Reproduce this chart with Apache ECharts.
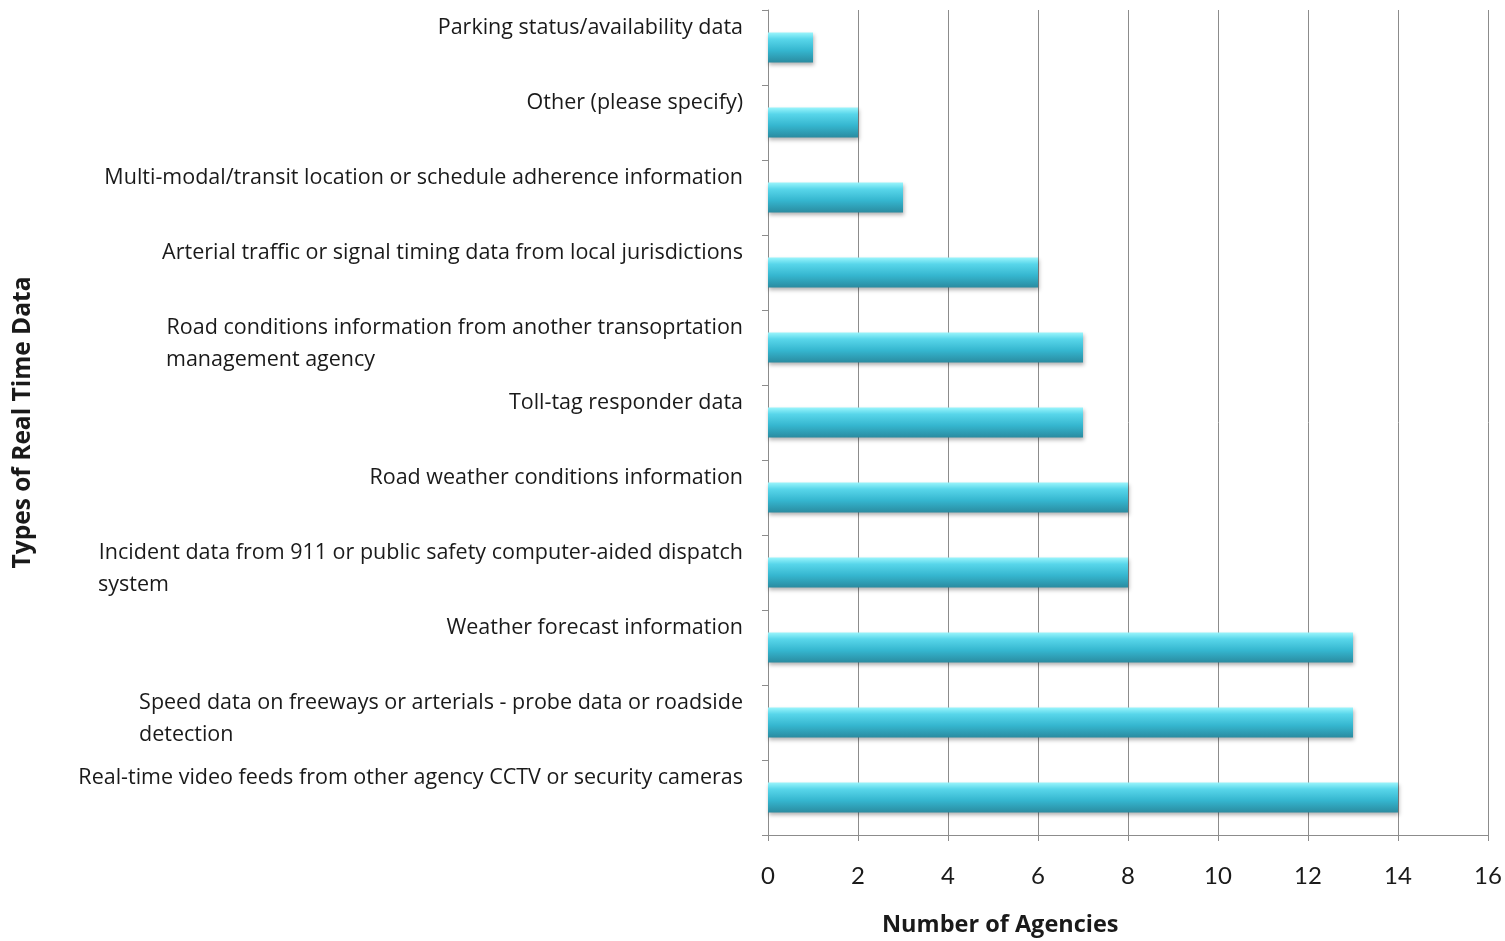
<!DOCTYPE html>
<html><head><meta charset="utf-8">
<script src="https://cdn.jsdelivr.net/npm/echarts@6/dist/echarts.min.js"></script>
<style>html,body{margin:0;padding:0;background:#fff}#c{width:1505px;height:941px}</style>
</head><body><div id="c"></div>
<script>
// Categories listed top to bottom; second element is an optional wrapped line
var categories = [
  ["Parking status/availability data"],
  ["Other (please specify)"],
  ["Multi-modal/transit location or schedule adherence information"],
  ["Arterial traffic or signal timing data from local jurisdictions"],
  ["Road conditions information from another transoprtation", "management agency"],
  ["Toll-tag responder data"],
  ["Road weather conditions information"],
  ["Incident data from 911 or public safety computer-aided dispatch", "system"],
  ["Weather forecast information"],
  ["Speed data on freeways or arterials - probe data or roadside", "detection"],
  ["Real-time video feeds from other agency CCTV or security cameras"]
];
var agencies = [1, 2, 3, 6, 7, 7, 8, 8, 13, 13, 14];
var xTicks = {min: 0, max: 16, interval: 2};

var FONT = 'Open Sans';
var FS = 21.5;
var cv = document.createElement('canvas').getContext('2d');

var rich = { e: {fontSize: FS, lineHeight: 32, fontFamily: FONT, color: '#1a1a1a'} };
var names = categories.map(function (c, i) {
  if (c.length > 1) {
    rich['l' + i] = {width: 100, align: 'left', fontSize: FS, lineHeight: 32, fontFamily: FONT, color: '#1a1a1a'};
  }
  return 'c' + i;
});
function fmt(v) {
  var i = +v.slice(1);
  var c = categories[i];
  if (c.length > 1) return c[0] + '\n{l' + i + '|' + c[1] + '}';
  return c[0] + '\n{e| }';
}

function draw() {
  cv.font = FS + 'px "' + FONT + '"';
  categories.forEach(function (c, i) {
    if (c.length > 1) rich['l' + i].width = Math.ceil(cv.measureText(c[0]).width);
  });
  var chart = echarts.init(document.getElementById('c'));
  chart.setOption({
    animation: false,
    backgroundColor: '#fff',
    title: {
      text: 'Number of Agencies', left: 877, top: 908,
      textStyle: {fontFamily: FONT, fontSize: 23.5, fontWeight: 'bold', color: '#1a1a1a'}
    },
    grid: {left: 768, right: 17, top: 10, bottom: 106, containLabel: false},
    xAxis: {
      type: 'value', min: xTicks.min, max: xTicks.max, interval: xTicks.interval,
      axisLine: {show: true, lineStyle: {color: '#8c8c8c', width: 1}},
      axisTick: {show: true, length: 6, inside: false, lineStyle: {color: '#8c8c8c'}},
      axisLabel: {fontFamily: 'Lato', fontSize: 24, color: '#1a1a1a', margin: 29},
      splitLine: {show: true, lineStyle: {color: '#8c8c8c', width: 1}}
    },
    yAxis: {
      type: 'category', inverse: true, data: names,
      name: 'Types of Real Time Data', nameLocation: 'middle', nameRotate: 90, nameGap: 732,
      nameTextStyle: {fontFamily: FONT, fontSize: 24.5, fontWeight: 'bold', color: '#1a1a1a'},
      axisLine: {show: true, lineStyle: {color: '#8c8c8c', width: 1}},
      axisTick: {show: true, length: 6, lineStyle: {color: '#8c8c8c'}},
      axisLabel: {
        formatter: fmt, rich: rich, fontFamily: FONT, fontSize: FS, lineHeight: 32,
        color: '#1a1a1a', margin: 25, align: 'right', verticalAlign: 'middle',
        padding: [0, 0, 8, 0]
      },
      splitLine: {show: false}
    },
    series: [{
      type: 'bar', data: agencies, barWidth: 30,
      itemStyle: {
        color: new echarts.graphic.LinearGradient(0, 0, 0, 1, [
          {offset: 0, color: '#9af5fc'},
          {offset: 0.22, color: '#58d6ea'},
          {offset: 0.6, color: '#35b6cf'},
          {offset: 1, color: '#2a8ba0'}
        ]),
        shadowBlur: 4, shadowColor: 'rgba(0,0,0,0.3)', shadowOffsetY: 2, shadowOffsetX: 1
      }
    }]
  });
}
if (document.fonts && document.fonts.load) {
  document.fonts.load(FS + 'px "' + FONT + '"').then(draw, draw);
} else { draw(); }
</script></body></html>
